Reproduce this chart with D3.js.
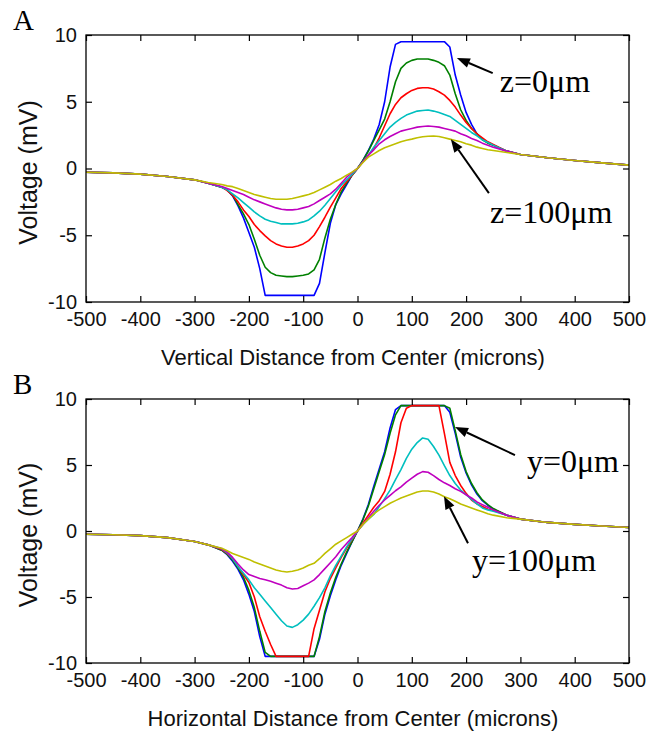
<!DOCTYPE html>
<html>
<head>
<meta charset="utf-8">
<script src="https://cdn.jsdelivr.net/npm/d3@7"></script>
<style>
  body { margin: 0; background: #fff; }
  svg { display: block; }
</style>
</head>
<body>
<div id="chart"></div>
<script>
// Distance grid (microns) shared by every curve.
const xGrid = [-500, -450, -400, -350, -300, -275,
  -250, -240, -230, -220, -210, -200, -190, -180, -170, -160, -150, -140, -130,
  -120, -110, -100, -90, -80, -70, -60, -50, -40, -30, -20, -10,
  0,
  10, 20, 30, 40, 50, 60, 70, 80, 90, 100, 110, 120, 130, 140, 150, 160, 170,
  180, 190, 200, 210, 220, 230, 240, 250,
  275, 300, 350, 400, 450, 500];

const seriesColors = ["#0000ff", "#008000", "#ff0000", "#00bfbf", "#bf00bf", "#bfbf00"];
const xTicks = [-500, -400, -300, -200, -100, 0, 100, 200, 300, 400, 500];
const yTicks = [-10, -5, 0, 5, 10];

// Panel A: vertical distance, z = 0 ... 100 um
const aBlue = [-0.28, -0.33, -0.42, -0.6, -0.85, -1.1,
  -1.4, -1.6, -2.05, -2.8, -3.7, -4.8, -5.9, -7.5, -9.5, -9.5, -9.5, -9.5, -9.5,
  -9.5, -9.5, -9.5, -9.5, -9.5, -8.6, -6.3, -4.1, -2.7, -1.9, -1.2, -0.5,
  0,
  0.6, 1.35, 2.2, 3.3, 5.0, 7.6, 9.3, 9.5, 9.5, 9.5, 9.5, 9.5, 9.5, 9.5, 9.5, 9.5, 9.1,
  7.0, 5.5, 4.2, 3.3, 2.6, 2.2, 1.95, 1.75,
  1.3, 1.05, 0.8, 0.6, 0.42, 0.25];
const aGreen = [-0.28, -0.33, -0.42, -0.6, -0.85, -1.1,
  -1.4, -1.6, -2.0, -2.7, -3.4, -4.2, -5.3, -6.5, -7.4, -7.8, -8.0, -8.05, -8.1,
  -8.1, -8.05, -8.0, -7.9, -7.6, -6.8, -5.2, -3.8, -2.7, -1.75, -1.1, -0.5,
  0,
  0.6, 1.3, 2.1, 2.9, 3.7, 5.0, 6.5, 7.5, 7.9, 8.1, 8.2, 8.2, 8.2, 8.1, 7.95, 7.7, 7.0,
  5.6, 4.4, 3.6, 3.0, 2.6, 2.15, 1.9, 1.75,
  1.3, 1.05, 0.8, 0.6, 0.42, 0.25];
const aRed = [-0.28, -0.33, -0.42, -0.6, -0.85, -1.1,
  -1.4, -1.65, -2.0, -2.5, -3.1, -3.6, -4.2, -4.65, -5.05, -5.4, -5.65, -5.8, -5.9,
  -5.9, -5.8, -5.65, -5.4, -5.0, -4.35, -3.65, -2.9, -2.2, -1.5, -1.0, -0.5,
  0,
  0.5, 1.0, 1.5, 2.3, 3.2, 4.1, 4.8, 5.3, 5.6, 5.85, 6.0, 6.05, 6.05, 5.95, 5.75, 5.5, 5.1,
  4.6, 4.0, 3.45, 3.0, 2.6, 2.3, 2.0, 1.8,
  1.3, 1.05, 0.8, 0.6, 0.42, 0.25];
const aCyan = [-0.28, -0.33, -0.42, -0.6, -0.85, -1.1,
  -1.4, -1.6, -1.9, -2.2, -2.55, -2.9, -3.25, -3.55, -3.8, -3.95, -4.05, -4.15, -4.15,
  -4.15, -4.1, -4.0, -3.85, -3.55, -3.2, -2.75, -2.25, -1.75, -1.25, -0.85, -0.45,
  0,
  0.5, 1.0, 1.6, 2.1, 2.6, 3.1, 3.45, 3.75, 4.0, 4.15, 4.3, 4.35, 4.38, 4.3, 4.2, 4.05, 3.9,
  3.6, 3.3, 3.0, 2.7, 2.45, 2.15, 1.95, 1.75,
  1.3, 1.05, 0.8, 0.6, 0.42, 0.25];
const aMagenta = [-0.28, -0.33, -0.42, -0.6, -0.85, -1.1,
  -1.35, -1.5, -1.65, -1.8, -1.95, -2.15, -2.35, -2.5, -2.65, -2.8, -2.95, -3.05, -3.1,
  -3.1, -3.05, -2.95, -2.85, -2.65, -2.4, -2.15, -1.9, -1.55, -1.1, -0.65, -0.3,
  0,
  0.5, 1.0, 1.4, 1.85, 2.15, 2.4, 2.6, 2.8, 2.9, 3.0, 3.1, 3.15, 3.18, 3.15, 3.1, 3.0, 2.9,
  2.8, 2.6, 2.45, 2.25, 2.1, 1.9, 1.75, 1.6,
  1.3, 1.05, 0.8, 0.6, 0.42, 0.25];
const aYellow = [-0.28, -0.33, -0.42, -0.6, -0.85, -1.05,
  -1.2, -1.3, -1.36, -1.5, -1.65, -1.8, -1.95, -2.05, -2.15, -2.25, -2.3, -2.3, -2.3,
  -2.25, -2.15, -2.05, -1.95, -1.8, -1.6, -1.4, -1.2, -0.95, -0.75, -0.5, -0.27,
  0,
  0.45, 0.85, 1.1, 1.35, 1.55, 1.7, 1.85, 2.0, 2.12, 2.2, 2.3, 2.38, 2.42, 2.43, 2.4, 2.3, 2.2,
  2.1, 2.0, 1.85, 1.75, 1.6, 1.5, 1.4, 1.35,
  1.2, 1.05, 0.8, 0.6, 0.42, 0.25];

// Panel B: horizontal distance, y = 0 ... 100 um
const bBlue = [-0.25, -0.28, -0.35, -0.5, -0.8, -1.05,
  -1.45, -1.8, -2.3, -2.9, -3.7, -4.8, -6.1, -8.0, -9.5, -9.5, -9.5, -9.5, -9.5,
  -9.5, -9.5, -9.5, -9.5, -9.5, -8.2, -6.3, -4.9, -3.7, -2.6, -1.7, -0.8,
  0,
  0.9, 2.0, 3.4, 4.7, 6.0, 7.8, 9.2, 9.5, 9.5, 9.5, 9.5, 9.5, 9.5, 9.5, 9.5, 9.5, 9.0,
  7.4, 5.6, 4.4, 3.5, 2.8, 2.3, 1.95, 1.65,
  1.2, 0.9, 0.65, 0.5, 0.38, 0.26];
const bGreen = [-0.25, -0.28, -0.35, -0.5, -0.8, -1.05,
  -1.45, -1.75, -2.2, -2.8, -3.5, -4.5, -5.8, -7.6, -9.2, -9.5, -9.5, -9.5, -9.5,
  -9.5, -9.5, -9.5, -9.5, -9.5, -8.0, -6.1, -4.7, -3.5, -2.5, -1.6, -0.8,
  0,
  0.85, 1.9, 3.2, 4.5, 5.8, 7.4, 8.8, 9.5, 9.5, 9.5, 9.5, 9.5, 9.5, 9.5, 9.5, 9.5, 9.3,
  7.6, 5.8, 4.5, 3.6, 2.9, 2.35, 2.0, 1.7,
  1.2, 0.9, 0.65, 0.5, 0.38, 0.26];
const bRed = [-0.25, -0.28, -0.35, -0.5, -0.8, -1.05,
  -1.4, -1.7, -2.1, -2.7, -3.3, -3.9, -5.0, -6.5, -7.6, -8.6, -9.5, -9.5, -9.5,
  -9.5, -9.5, -9.5, -9.5, -7.4, -6.0, -4.6, -3.6, -2.8, -2.0, -1.3, -0.65,
  0,
  0.6, 1.2, 1.8, 2.3, 3.0, 4.3, 6.0, 8.2, 9.3, 9.5, 9.5, 9.5, 9.5, 9.5, 9.5, 7.4, 5.2,
  4.2, 3.45, 2.85, 2.35, 2.05, 1.85, 1.65, 1.55,
  1.2, 0.9, 0.65, 0.5, 0.38, 0.26];
const bCyan = [-0.25, -0.28, -0.35, -0.5, -0.8, -1.05,
  -1.35, -1.65, -2.1, -2.7, -3.2, -3.7, -4.3, -4.8, -5.3, -5.8, -6.3, -6.8, -7.2,
  -7.3, -7.1, -6.75, -6.3, -5.7, -5.05, -4.3, -3.4, -2.6, -1.9, -1.2, -0.6,
  0,
  0.5, 0.9, 1.25, 1.85, 2.45, 3.1, 3.9, 4.65, 5.5, 6.2, 6.7, 7.05, 6.95, 6.4, 5.75, 4.95, 4.2,
  3.6, 3.1, 2.75, 2.4, 2.05, 1.75, 1.6, 1.5,
  1.2, 0.9, 0.65, 0.5, 0.38, 0.26];
const bMagenta = [-0.25, -0.28, -0.35, -0.5, -0.8, -1.05,
  -1.35, -1.6, -2.0, -2.5, -2.95, -3.3, -3.45, -3.6, -3.7, -3.8, -3.95, -4.1, -4.3,
  -4.4, -4.35, -4.15, -3.95, -3.7, -3.3, -2.85, -2.4, -1.95, -1.4, -0.95, -0.5,
  0,
  0.5, 1.0, 1.5, 1.95, 2.35, 2.7, 3.05, 3.35, 3.7, 4.0, 4.3, 4.5, 4.45, 4.2, 3.9, 3.65, 3.45,
  3.2, 3.0, 2.75, 2.5, 2.2, 2.0, 1.8, 1.6,
  1.2, 0.9, 0.65, 0.5, 0.38, 0.26];
const bYellow = [-0.25, -0.28, -0.35, -0.5, -0.8, -1.05,
  -1.3, -1.5, -1.7, -1.85, -2.0, -2.15, -2.35, -2.5, -2.65, -2.8, -2.95, -3.05, -3.1,
  -3.05, -2.95, -2.8, -2.6, -2.45, -2.1, -1.7, -1.35, -1.0, -0.75, -0.5, -0.25,
  0,
  0.5, 0.9, 1.3, 1.6, 1.85, 2.1, 2.3, 2.5, 2.65, 2.8, 2.95, 3.03, 3.03, 2.95, 2.8, 2.6, 2.45,
  2.25, 2.05, 1.9, 1.75, 1.6, 1.45, 1.3, 1.2,
  1.0, 0.9, 0.65, 0.5, 0.38, 0.26];

// Arrow annotations in data units: [tailX, tailV, tipX, tipV], label at [x, v].
const aNotes = [
  { text: "z=0\u03bcm", at: [262, 5.73], arrow: [249, 7.15, 183, 8.28] },
  { text: "z=100\u03bcm", at: [244, -4.1], arrow: [242, -1.84, 172, 2.2] }
];
const bNotes = [
  { text: "y=0\u03bcm", at: [312, 4.46], arrow: [290, 5.75, 179.6, 7.88] },
  { text: "y=100\u03bcm", at: [211, -3.0], arrow: [203.5, -0.93, 159.3, 2.64] }
];

const width = 657, height = 734;
const left = 86, right = 629;

const panels = [
  { letter: "A", top: 35, bottom: 302, series: [aBlue, aGreen, aRed, aCyan, aMagenta, aYellow],
    xLabel: "Vertical Distance from Center (microns)", notes: aNotes },
  { letter: "B", top: 399, bottom: 663, series: [bBlue, bGreen, bRed, bCyan, bMagenta, bYellow],
    xLabel: "Horizontal Distance from Center (microns)", notes: bNotes }
];

const svg = d3.select("#chart").append("svg")
  .attr("width", width)
  .attr("height", height);
svg.append("rect").attr("width", width).attr("height", height).attr("fill", "#fff");

const sans = "Arial, 'Liberation Sans', sans-serif";
const serif = "'Times New Roman', 'Liberation Serif', serif";

panels.forEach(p => {
  const x = d3.scaleLinear().domain([-500, 500]).range([left, right]);
  const y = d3.scaleLinear().domain([-10, 10]).range([p.bottom, p.top]);
  const g = svg.append("g");

  // Curves, blue first so yellow sits on top like the original.
  const line = d3.line()
    .x((d, i) => x(xGrid[i]))
    .y(d => y(d));
  p.series.forEach((vals, k) => {
    g.append("path")
      .datum(vals)
      .attr("d", line)
      .attr("fill", "none")
      .attr("stroke", seriesColors[k])
      .attr("stroke-width", 1.6)
      .attr("stroke-linejoin", "round");
  });

  // Box with inward ticks on all four sides.
  const axes = [
    { ax: d3.axisBottom(x).tickValues(xTicks).tickSize(-6).tickPadding(10).tickFormat(d => String(d)), t: `translate(0,${p.bottom})` },
    { ax: d3.axisTop(x).tickValues(xTicks).tickSize(-6).tickFormat(""), t: `translate(0,${p.top})` },
    { ax: d3.axisLeft(y).tickValues(yTicks).tickSize(-6).tickPadding(9).tickFormat(d => String(d)), t: `translate(${left},0)` },
    { ax: d3.axisRight(y).tickValues(yTicks).tickSize(-6).tickFormat(""), t: `translate(${right},0)` }
  ];
  axes.forEach(a => {
    const ag = g.append("g").attr("transform", a.t).call(a.ax);
    ag.select(".domain").remove();
    ag.selectAll("line").attr("stroke", "#000").attr("stroke-width", 1.2);
    ag.selectAll("text").attr("font-family", sans).attr("font-size", 20).attr("fill", "#111");
  });
  g.append("rect")
    .attr("x", left).attr("y", p.top)
    .attr("width", right - left).attr("height", p.bottom - p.top)
    .attr("fill", "none").attr("stroke", "#000").attr("stroke-width", 1.3);

  // Axis titles.
  g.append("text")
    .attr("x", 353).attr("y", p.bottom + 63)
    .attr("text-anchor", "middle")
    .attr("font-family", sans).attr("font-size", 22).attr("fill", "#111")
    .text(p.xLabel);
  g.append("text")
    .attr("transform", `translate(37,${(p.top + p.bottom) / 2 + 4}) rotate(-90)`)
    .attr("text-anchor", "middle")
    .attr("font-family", sans).attr("font-size", 25).attr("fill", "#111")
    .text("Voltage (mV)");

  // Panel letter.
  g.append("text")
    .attr("x", 13).attr("y", p.top - 5)
    .attr("font-family", serif).attr("font-size", 29).attr("fill", "#000")
    .text(p.letter);

  // Annotations with filled arrow heads.
  p.notes.forEach(n => {
    const [x1, v1, x2, v2] = n.arrow;
    const sx = x(x1), sy = y(v1), ex = x(x2), ey = y(v2);
    const ang = Math.atan2(ey - sy, ex - sx);
    const hl = 13, hw = 5;
    const bx = ex - hl * Math.cos(ang), by = ey - hl * Math.sin(ang);
    g.append("line")
      .attr("x1", sx).attr("y1", sy).attr("x2", bx).attr("y2", by)
      .attr("stroke", "#000").attr("stroke-width", 2);
    g.append("polygon")
      .attr("points", [
        [ex, ey],
        [bx + hw * Math.sin(ang), by - hw * Math.cos(ang)],
        [bx - hw * Math.sin(ang), by + hw * Math.cos(ang)]
      ].map(pt => pt.join(",")).join(" "))
      .attr("fill", "#000");
    g.append("text")
      .attr("x", x(n.at[0])).attr("y", y(n.at[1]))
      .attr("font-family", serif).attr("font-size", 32).attr("fill", "#000")
      .text(n.text);
  });
});
</script>
</body>
</html>
